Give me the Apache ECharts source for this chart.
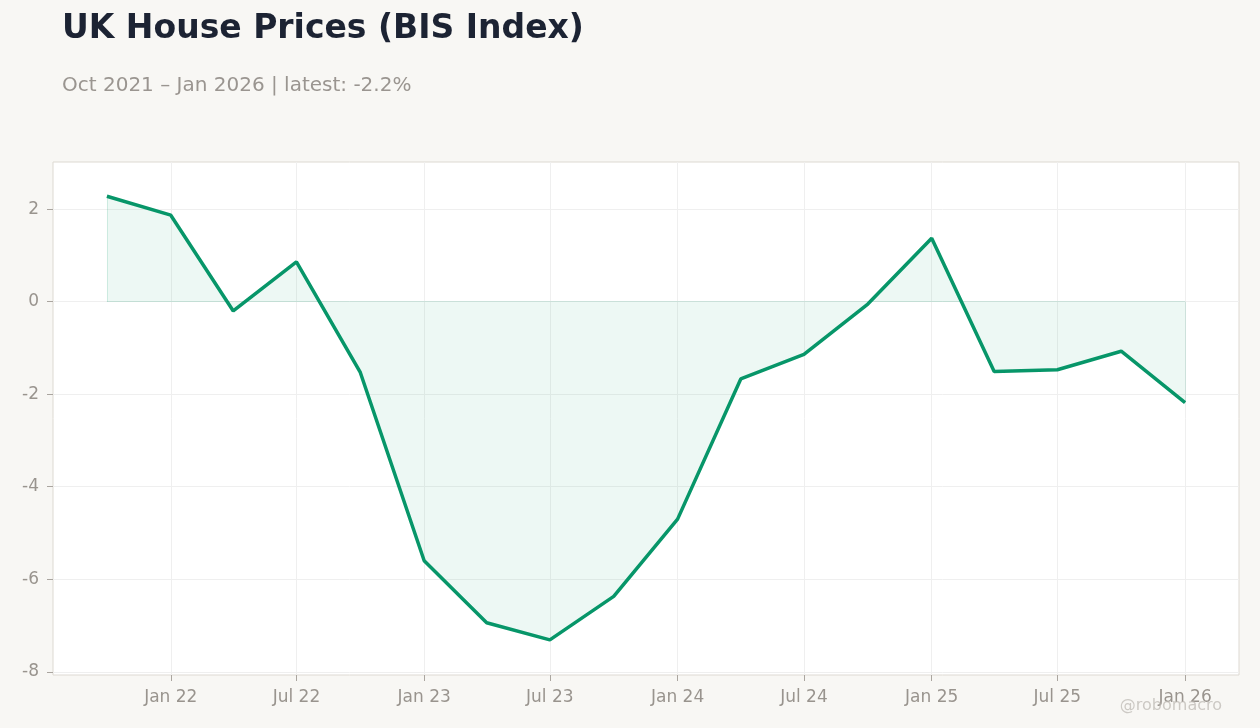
<!DOCTYPE html>
<html>
<head>
<meta charset="utf-8">
<script src="https://cdn.jsdelivr.net/npm/echarts@6/dist/echarts.min.js"></script>
<style>
  html, body { margin:0; padding:0; background:#f8f7f4; }
  #chart { width:1260px; height:728px; }
</style>
</head>
<body>
<div id="chart"></div>
<script>
// quarterly BIS house price readings (% y/y)
var dates = ['2021-10-01','2022-01-01','2022-04-01','2022-07-01','2022-10-01','2023-01-01',
             '2023-04-01','2023-07-01','2023-10-01','2024-01-01','2024-04-01','2024-07-01',
             '2024-10-01','2025-01-01','2025-04-01','2025-07-01','2025-10-01','2026-01-01'];
var values = [2.28, 1.87, -0.2, 0.86, -1.53, -5.6,
              -6.94, -7.31, -6.37, -4.7, -1.67, -1.14,
              -0.05, 1.37, -1.51, -1.47, -1.07, -2.18];
var xTicks = ['2022-01-01','2022-07-01','2023-01-01','2023-07-01','2024-01-01',
              '2024-07-01','2025-01-01','2025-07-01','2026-01-01'];
var yTicks = [-8, -6, -4, -2, 0, 2];
var monthNames = ['Jan','Feb','Mar','Apr','May','Jun','Jul','Aug','Sep','Oct','Nov','Dec'];

function toTime(s){ var p = s.split('-'); return new Date(+p[0], +p[1]-1, +p[2]).getTime(); }

var t0 = toTime(dates[0]), t1 = toTime(dates[dates.length-1]);
var pad = (t1 - t0) * 0.05;

var chart = echarts.init(document.getElementById('chart'));
var option = {
  backgroundColor: '#f8f7f4',
  animation: false,
  title: {
    text: 'UK House Prices (BIS Index)',
    subtext: 'Oct 2021 \u2013 Jan 2026 | latest: -2.2%',
    left: 57, top: 8,
    itemGap: 30,
    textStyle: { fontFamily: 'DejaVu Sans', fontWeight: 'bold', fontSize: 33, color: '#1c2333' },
    subtextStyle: { fontFamily: 'DejaVu Sans', fontSize: 20, color: '#9a9590' }
  },
  graphic: [{
    type: 'text', right: 38, bottom: 14, z: 10,
    style: { text: '@robomacro', font: '16px "DejaVu Sans"', fill: 'rgba(190,186,180,0.75)' }
  }],
  grid: {
    left: 53, right: 21, top: 162, bottom: 53,
    show: true, backgroundColor: '#ffffff', borderColor: '#ddd9d2', borderWidth: 1
  },
  xAxis: {
    type: 'value',
    min: t0 - pad, max: t1 + pad,
    axisLine: { show: false, onZero: false },
    axisTick: { show: true, length: 6, lineStyle: { color: '#aaa59f' }, customValues: xTicks.map(toTime) },
    axisLabel: {
      customValues: xTicks.map(toTime),
      fontFamily: 'DejaVu Sans', fontSize: 17, color: '#99948e', margin: 14,
      formatter: function(v){ var d = new Date(v); return monthNames[d.getMonth()] + ' ' + String(d.getFullYear()).slice(2); }
    },
    splitLine: { show: true, lineStyle: { color: '#efefef', width: 1 } }
  },
  yAxis: {
    type: 'value',
    min: -8.07, max: 3.02,
    axisLine: { show: false },
    axisTick: { show: true, length: 6, lineStyle: { color: '#aaa59f' }, customValues: yTicks },
    axisLabel: {
      customValues: yTicks,
      fontFamily: 'DejaVu Sans', fontSize: 17, color: '#99948e', margin: 14,
      padding: [4, 0, 0, 0]
    },
    splitLine: { show: true, lineStyle: { color: '#efefef', width: 1 } }
  },
  series: [{
    type: 'line',
    data: dates.map(function(d, i){ return [toTime(d), values[i]]; }),
    symbol: 'none',
    lineStyle: { color: '#079669', width: 3.5 },
    itemStyle: { color: '#079669' },
    areaStyle: { color: 'rgba(7,150,105,0.1)', origin: 0 },
    markLine: {
      silent: true, symbol: 'none', label: { show: false },
      lineStyle: { color: 'rgba(7,150,105,0.14)', type: 'solid', width: 1 },
      data: [
        [{ coord: [t0, 0] }, { coord: [t1, 0] }],
        [{ coord: [t0, 0] }, { coord: [t0, values[0]] }],
        [{ coord: [t1, 0] }, { coord: [t1, values[values.length-1]] }]
      ]
    }
  }]
};
chart.setOption(option);
</script>
</body>
</html>
